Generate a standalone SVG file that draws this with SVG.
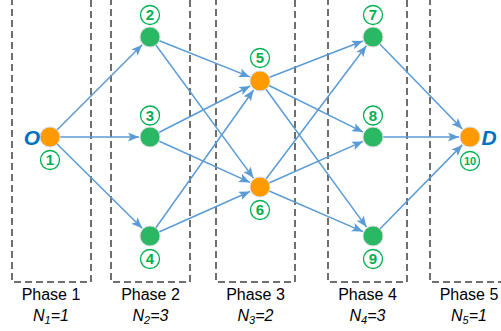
<svg xmlns="http://www.w3.org/2000/svg" width="501" height="331" viewBox="0 0 501 331">
<defs>
<marker id="arr" markerUnits="userSpaceOnUse" markerWidth="12" markerHeight="10" refX="11" refY="4.5" orient="auto">
<path d="M0,0 L11,4.5 L0,9 L2.5,4.5 Z" fill="#5B9BD5"/>
</marker>
<style>
.box{fill:none;stroke:#404040;stroke-width:1.5;stroke-dasharray:7,4}
.e{stroke:#5B9BD5;stroke-width:1.5;fill:none;marker-end:url(#arr)}
.or{fill:#FF9B00;stroke:#d9d9d9;stroke-width:1}
.gr{fill:#2BB865;stroke:#d9d9d9;stroke-width:1}
.lc{fill:#fff;stroke:#00B050;stroke-width:1.3}
.lt{font-family:"Liberation Sans",Arial,sans-serif;font-weight:bold;font-size:15px;fill:#00B050;text-anchor:middle}
.od{font-family:"Liberation Sans",Arial,sans-serif;font-weight:bold;font-style:italic;font-size:21px;fill:#0070C0;text-anchor:middle}
.ph{font-family:"Liberation Sans",Arial,sans-serif;font-size:16px;fill:#000;text-anchor:middle}
.nn{font-family:"Liberation Sans",Arial,sans-serif;font-style:italic;font-size:16px;fill:#000;text-anchor:middle}
.sub{font-size:11px}
</style>
</defs>
<g id="phases">
<path class="box" d="M12,-2 V282 H91 V-2"/>
<path class="box" d="M111,-2 V282 H190 V-2"/>
<path class="box" d="M216,-2 V282 H295 V-2"/>
<path class="box" d="M328,-2 V282 H407 V-2"/>
<path class="box" d="M430,-2 V282 H503"/>
<text class="ph" x="51" y="300">Phase 1</text>
<text class="ph" x="150.5" y="300">Phase 2</text>
<text class="ph" x="255.5" y="300">Phase 3</text>
<text class="ph" x="367.5" y="300">Phase 4</text>
<text class="ph" x="469" y="300">Phase 5</text>
<text class="nn" x="51" y="321">N<tspan class="sub" dy="3">1</tspan><tspan dy="-3">=1</tspan></text>
<text class="nn" x="150.5" y="321">N<tspan class="sub" dy="3">2</tspan><tspan dy="-3">=3</tspan></text>
<text class="nn" x="255.5" y="321">N<tspan class="sub" dy="3">3</tspan><tspan dy="-3">=2</tspan></text>
<text class="nn" x="367.5" y="321">N<tspan class="sub" dy="3">4</tspan><tspan dy="-3">=3</tspan></text>
<text class="nn" x="469" y="321">N<tspan class="sub" dy="3">5</tspan><tspan dy="-3">=1</tspan></text>
</g>
<g id="connectors">
<line class="e" x1="50" y1="137" x2="142.2" y2="44.8"/>
<line class="e" x1="50" y1="137" x2="139" y2="137"/>
<line class="e" x1="50" y1="137" x2="142.2" y2="228.3"/>
<line class="e" x1="150" y1="37" x2="249.8" y2="76.9"/>
<line class="e" x1="150" y1="37" x2="253.5" y2="178.1"/>
<line class="e" x1="150" y1="137" x2="250.2" y2="86.0"/>
<line class="e" x1="150" y1="137" x2="250.0" y2="182.4"/>
<line class="e" x1="150" y1="236" x2="253.6" y2="90.0"/>
<line class="e" x1="150" y1="236" x2="250.0" y2="191.5"/>
<line class="e" x1="260" y1="81" x2="362.8" y2="41.0"/>
<line class="e" x1="260" y1="81" x2="363.1" y2="132.1"/>
<line class="e" x1="260" y1="81" x2="366.5" y2="227.1"/>
<line class="e" x1="260" y1="187" x2="366.4" y2="45.8"/>
<line class="e" x1="260" y1="187" x2="362.9" y2="141.4"/>
<line class="e" x1="260" y1="187" x2="362.9" y2="231.6"/>
<line class="e" x1="373" y1="37" x2="462.3" y2="129.1"/>
<line class="e" x1="373" y1="137" x2="459" y2="137"/>
<line class="e" x1="373" y1="236" x2="462.3" y2="144.9"/>
</g>
<g id="n1"><circle class="or" cx="50" cy="137" r="10"/><text class="od" x="32" y="144.5">O</text><circle class="lc" cx="50" cy="160" r="9.5"/><text class="lt" x="50" y="165.3">1</text></g>
<g id="n2"><circle class="gr" cx="150" cy="37" r="10"/><circle class="lc" cx="150" cy="15" r="9.5"/><text class="lt" x="150" y="20.3">2</text></g>
<g id="n3"><circle class="gr" cx="150" cy="137" r="10"/><circle class="lc" cx="150" cy="115.5" r="9.5"/><text class="lt" x="150" y="120.8">3</text></g>
<g id="n4"><circle class="gr" cx="150" cy="236" r="10"/><circle class="lc" cx="150" cy="259" r="9.5"/><text class="lt" x="150" y="264.3">4</text></g>
<g id="n5"><circle class="or" cx="260" cy="81" r="10"/><circle class="lc" cx="260" cy="58" r="9.5"/><text class="lt" x="260" y="63.3">5</text></g>
<g id="n6"><circle class="or" cx="260" cy="187" r="10"/><circle class="lc" cx="260" cy="210" r="9.5"/><text class="lt" x="260" y="215.3">6</text></g>
<g id="n7"><circle class="gr" cx="373" cy="37" r="10"/><circle class="lc" cx="373" cy="15" r="9.5"/><text class="lt" x="373" y="20.3">7</text></g>
<g id="n8"><circle class="gr" cx="373" cy="137" r="10"/><circle class="lc" cx="373" cy="115.5" r="9.5"/><text class="lt" x="373" y="120.8">8</text></g>
<g id="n9"><circle class="gr" cx="373" cy="236" r="10"/><circle class="lc" cx="373" cy="259" r="9.5"/><text class="lt" x="373" y="264.3">9</text></g>
<g id="n10"><circle class="or" cx="470" cy="137" r="10"/><text class="od" x="489" y="144.5">D</text><circle class="lc" cx="470" cy="161" r="9.5"/><text class="lt" x="470" y="165" style="font-size:11px">10</text></g>
</svg>
